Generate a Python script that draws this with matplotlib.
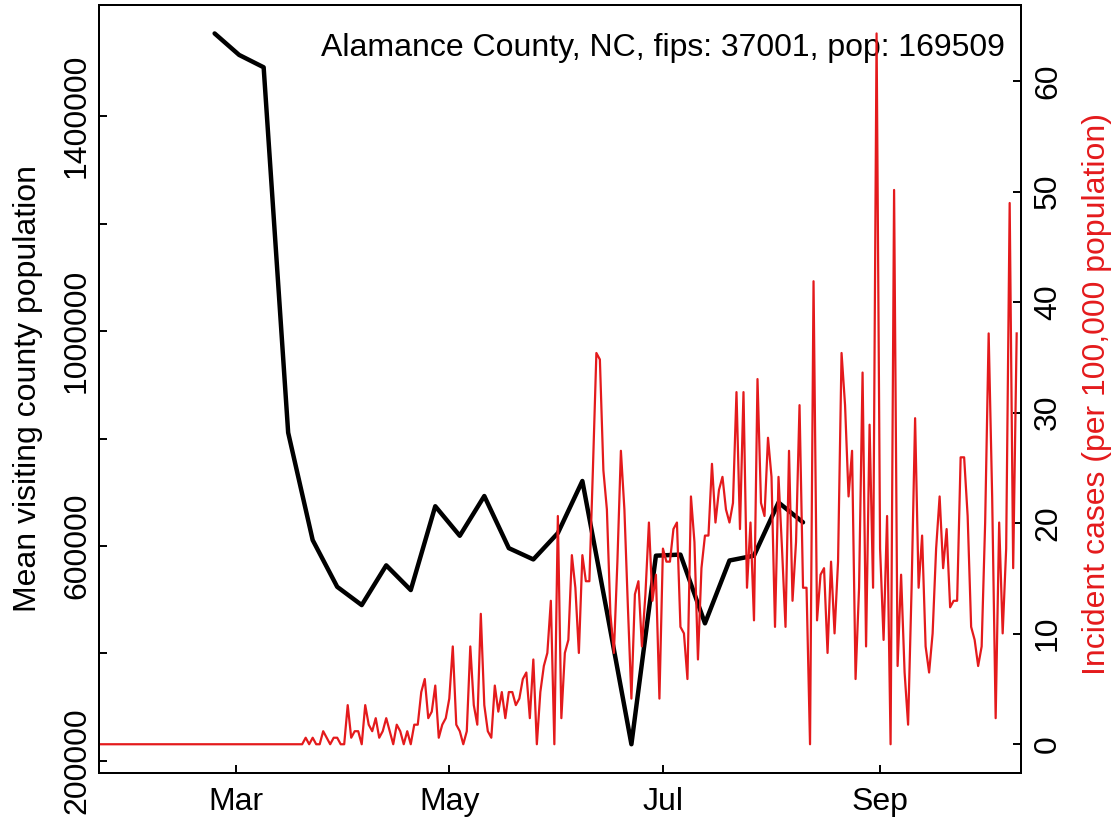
import numpy as np
import matplotlib
matplotlib.use('Agg')
import matplotlib.pyplot as plt
import matplotlib.dates as mdates

plt.rcParams['font.family'] = ['Liberation Sans', 'DejaVu Sans']

RED = '#E41A1C'
FS = 23

# county info
title = "Alamance County, NC, fips: 37001, pop: 169509"
population = 169509

# weekly mean visiting county population (starting Monday 2020-02-24)
visit_start = np.datetime64('2020-02-24')
visitors = [1554000, 1514000, 1491000, 811000, 611000, 524000, 490000,
            564000, 518000, 674000, 619000, 693000, 596000, 575000,
            624000, 721000, 478000, 231000, 582000, 584000, 456000,
            573000, 582000, 681000, 644000]

# daily new cases (starting 2020-01-22)
case_start = np.datetime64('2020-01-22')
cases = [0, 0, 0, 0, 0, 0, 0, 0, 0, 0, 0, 0, 0, 0, 0, 0, 0, 0, 0, 0,
         0, 0, 0, 0, 0, 0, 0, 0, 0, 0, 0, 0, 0, 0, 0, 0, 0, 0, 0, 0,
         0, 0, 0, 0, 0, 0, 0, 0, 0, 0, 0, 0, 0, 0, 0, 0, 0, 0,
         0, 1, 0, 1, 0, 0, 2, 1, 0, 1, 1, 0, 0, 6, 1, 2, 2, 0, 6, 3,
         2, 4, 1, 2, 4, 2, 0, 3, 2, 0, 2, 0, 3, 3, 8, 10, 4, 5, 9, 1,
         3, 4, 7, 15, 3, 2, 0, 2, 15, 6, 3, 20, 6, 2, 1, 9, 5, 8, 4, 8,
         8, 6, 7, 10, 11, 4, 13, 0, 8, 12, 14, 22, 0, 35, 4, 14, 16, 29, 24, 14,
         29, 25, 25, 42, 60, 59, 42, 36, 20, 14, 28, 45, 36, 21, 7, 23, 25, 15,
         23, 34, 22, 26, 7, 30, 28, 28, 33, 34, 18, 17, 10, 38, 31, 13, 27, 32,
         32, 43, 34, 39, 41, 36, 34, 37, 54, 33, 54, 24, 34, 19, 56, 37, 35, 47,
         41, 18, 41, 30, 18, 45, 22, 31, 52, 24, 24, 0, 71, 19, 26, 27, 14, 28,
         17, 28, 60, 52, 38, 45, 10, 24, 57, 15, 49, 24, 109, 30, 16, 35, 0, 85,
         12, 26, 11, 3, 24, 50, 24, 32, 15, 11, 17, 30, 38, 27, 33, 21, 22, 22,
         44, 44, 35, 18, 16, 12, 15, 34, 63, 38, 4, 34, 17, 30, 83, 27, 63]

month_ticks = np.array(['2020-03-01', '2020-05-01', '2020-07-01', '2020-09-01'],
                       dtype='datetime64[D]')
month_labels = ['Mar', 'May', 'Jul', 'Sep']

left_ticks = [200000, 400000, 600000, 800000, 1000000, 1200000, 1400000]
left_labels = ['200000', '', '600000', '', '1000000', '', '1400000']
right_ticks = [0, 10, 20, 30, 40, 50, 60]

week_dates = visit_start + np.arange(len(visitors)) * np.timedelta64(7, 'D')
case_dates = case_start + np.arange(len(cases)) * np.timedelta64(1, 'D')
rate = np.array(cases) / population * 1e5

fig = plt.figure(figsize=(11.19, 8.22), dpi=100)
ax = fig.add_axes([0.0885, 0.0600, 0.8235, 0.9339])

ax.plot(week_dates, visitors, color='black', lw=3.2,
        solid_joinstyle='round', solid_capstyle='round')
lo, hi = min(visitors), max(visitors)
ax.set_ylim(lo - 0.04 * (hi - lo), hi + 0.04 * (hi - lo))

ax2 = ax.twinx()
ax2.plot(case_dates, rate, color=RED, lw=1.6)
rhi = rate.max()
ax2.set_ylim(-0.04 * rhi, rhi * 1.04)

x0 = mdates.date2num(case_dates[0])
x1 = mdates.date2num(case_dates[-1]) + 1.1
ax.set_xlim(x0, x1)

ax.set_xticks(mdates.date2num(month_ticks))
ax.set_xticklabels(month_labels, fontsize=FS)
ax.set_yticks(left_ticks)
ax.set_yticklabels(left_labels, fontsize=FS, rotation=90, va='center')
ax2.set_yticks(right_ticks)
ax2.set_yticklabels([str(t) for t in right_ticks], fontsize=FS,
                    rotation=90, va='center')

ax.tick_params(axis='x', direction='in', length=5.5, width=1.4, pad=10)
ax.tick_params(axis='y', direction='in', length=5.5, width=1.4, pad=5)
ax2.tick_params(axis='y', direction='in', length=5.5, width=1.4, pad=9)
for a in (ax, ax2):
    for s in a.spines.values():
        s.set_linewidth(1.4)

ax.text(0.983, 0.9336, title, transform=ax.transAxes, ha='right',
        va='baseline', fontsize=FS)

fig.text(28 / 1119, 0.5268, 'Mean visiting county population', rotation=90,
         ha='center', va='center', fontsize=FS)
fig.text(1097 / 1119, 0.521, 'Incident cases (per 100,000 population)',
         rotation=90, ha='center', va='center', fontsize=FS, color=RED)

fig.savefig('out.png', dpi=100)
